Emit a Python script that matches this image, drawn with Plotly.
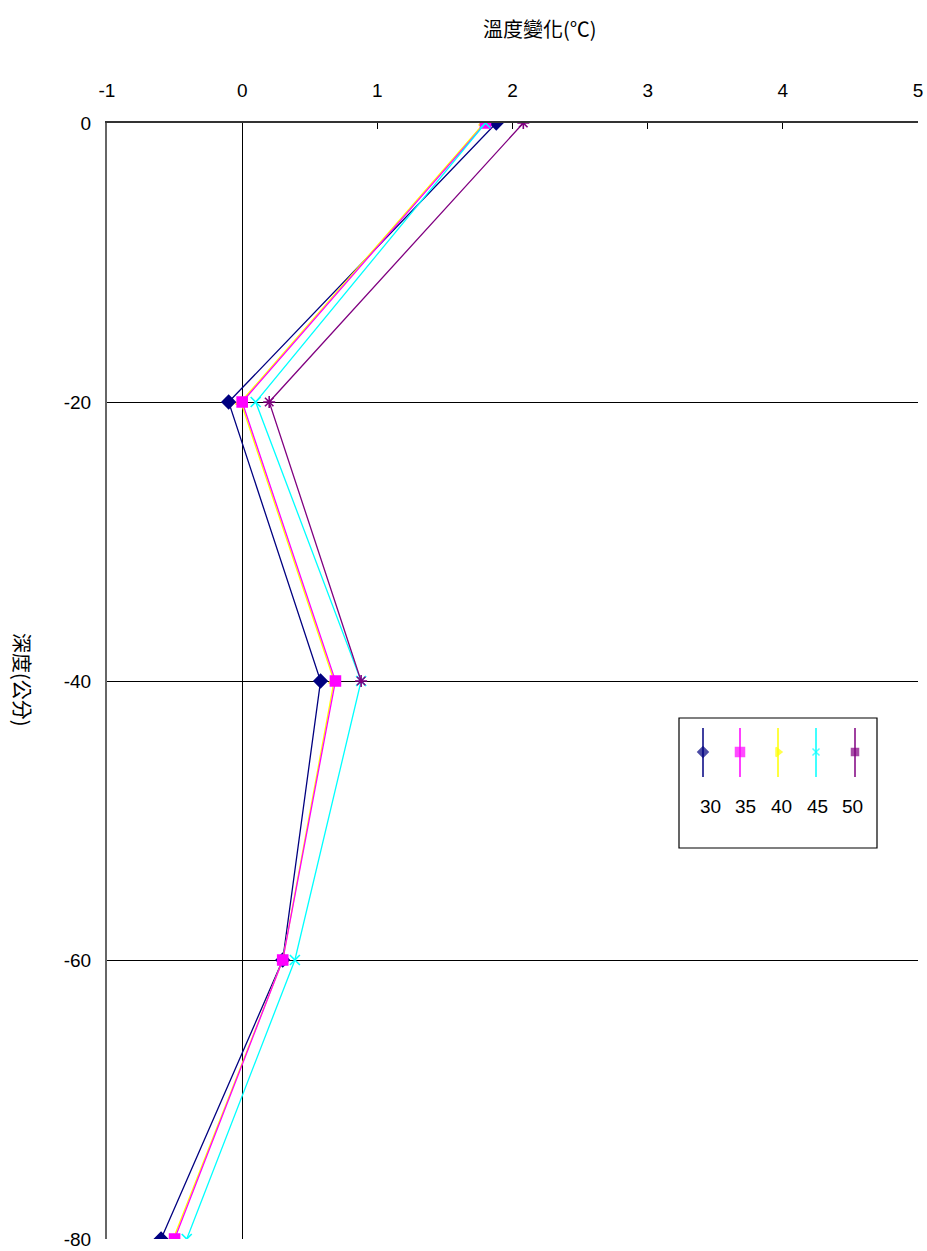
import plotly.graph_objects as go

depths = [0, -20, -40, -60, -80]
series_names = ["30", "35", "40", "45", "50"]
s30 = [1.88, -0.1, 0.58, 0.3, -0.6]
s35 = [1.8, 0.0, 0.69, 0.3, -0.5]
s40 = [1.79, -0.01, 0.68, 0.3, -0.51]
s45 = [1.8, 0.1, 0.88, 0.39, -0.41]
s50 = [2.08, 0.2, 0.88, None, None]
x_ticks = [-1, 0, 1, 2, 3, 4, 5]
y_ticks = [0, -20, -40, -60, -80]

colors = ["#000080", "#FF00FF", "#FFFF00", "#00FFFF", "#800080"]
symbols = ["diamond", "square", "triangle-up", "x-thin-open", "asterisk-open"]
sizes = [10, 10, 9, 10, 10]
values = [s30, s35, s40, s45, s50]
# draw order: 35 drawn above 40
order = [0, 2, 1, 3, 4]

fig = go.Figure()
for i in order:
    name, vals, c, sym, sz = series_names[i], values[i], colors[i], symbols[i], sizes[i]
    fig.add_trace(go.Scatter(
        x=vals, y=depths, mode="lines+markers", name=name,
        line=dict(color=c, width=1.3),
        marker=dict(symbol=sym, size=sz, color=c, line=dict(color=c, width=1.6)),
        showlegend=False, connectgaps=False,
    ))

# body margin is removed by a post script, so the figure fills the window exactly
W, H = 927, 1251
L, R, T, B = 107, 918, 123, 1239   # target plot area in screen pixels
pw, ph = R - L, B - T
def px_x(p):
    return (p - L) / pw
def px_y(p):
    return 1 - (p - T) / ph

leg_x = [703, 740, 778, 816, 855]
leg_lab_x = [710, 745, 781, 817, 852]
shapes = [dict(type="rect", xref="paper", yref="paper",
               x0=px_x(679), x1=px_x(877), y0=px_y(848), y1=px_y(718),
               line=dict(color="black", width=1.2), fillcolor="rgba(0,0,0,0)", layer="above")]
annotations = []
for i, (name, c) in enumerate(zip(series_names, colors)):
    shapes.append(dict(type="line", xref="paper", yref="paper",
                       x0=px_x(leg_x[i]), x1=px_x(leg_x[i]), y0=px_y(777), y1=px_y(728),
                       line=dict(color=c, width=1.5), layer="below"))
    annotations.append(dict(text=name, xref="paper", yref="paper",
                            x=px_x(leg_lab_x[i]), y=px_y(806), showarrow=False,
                            xanchor="center", yanchor="middle",
                            font=dict(family="Liberation Sans", size=19, color="black")))

fig.add_trace(go.Scatter(
    x=[px_x(v) for v in leg_x], y=[px_y(752)] * 5, mode="markers", xaxis="x2", yaxis="y2",
    marker=dict(symbol=["diamond", "square", "triangle-right", "x-thin-open", "square"],
                size=[8, 9, 8, 7, 7], color=colors,
                line=dict(color=colors, width=1.5)),
    showlegend=False, hoverinfo="skip",
))

annotations.append(dict(text="溫度變化(℃)", xref="paper", yref="paper",
                        x=px_x(540), y=px_y(28), showarrow=False,
                        xanchor="center", yanchor="middle",
                        font=dict(family="Noto Sans CJK TC", size=20, color="black")))
annotations.append(dict(text="深度(公分)", xref="paper", yref="paper",
                        x=px_x(23), y=px_y(680), showarrow=False, textangle=90,
                        xanchor="center", yanchor="middle",
                        font=dict(family="Noto Sans CJK TC", size=20, color="black")))

fig.update_layout(
    width=W, height=H,
    margin=dict(l=L, r=W - R, t=T, b=H - B, pad=0, autoexpand=False),
    paper_bgcolor="white", plot_bgcolor="white",
    font=dict(family="Liberation Sans", size=19, color="black"),
    xaxis=dict(range=[-1, 5], side="top", tickvals=x_ticks, ticktext=[str(v) for v in x_ticks],
               showgrid=False, zeroline=True, zerolinecolor="black", zerolinewidth=1.3,
               showline=True, linecolor="#333333", linewidth=2, automargin=False,
               ticklabeloverflow="allow",
               ticks="inside", ticklen=6, tickcolor="black", tickfont=dict(size=19), ticklabelstandoff=16),
    yaxis=dict(range=[-80, 0], tickvals=y_ticks, ticktext=[str(v) for v in y_ticks],
               showgrid=True, gridcolor="black", gridwidth=1.3, automargin=False,
               ticklabeloverflow="allow",
               zeroline=False, showline=True, linecolor="#666666", linewidth=2,
               ticks="", tickfont=dict(size=19), ticklabelstandoff=10),
    xaxis2=dict(domain=[0, 1], range=[0, 1], visible=False, overlaying="x", fixedrange=True),
    yaxis2=dict(domain=[0, 1], range=[0, 1], visible=False, overlaying="y", fixedrange=True),
    shapes=shapes, annotations=annotations,
)

fig.write_html("out.html", config={"displayModeBar": False},
               post_script="document.body.style.margin='0';document.body.style.overflow='hidden';")
